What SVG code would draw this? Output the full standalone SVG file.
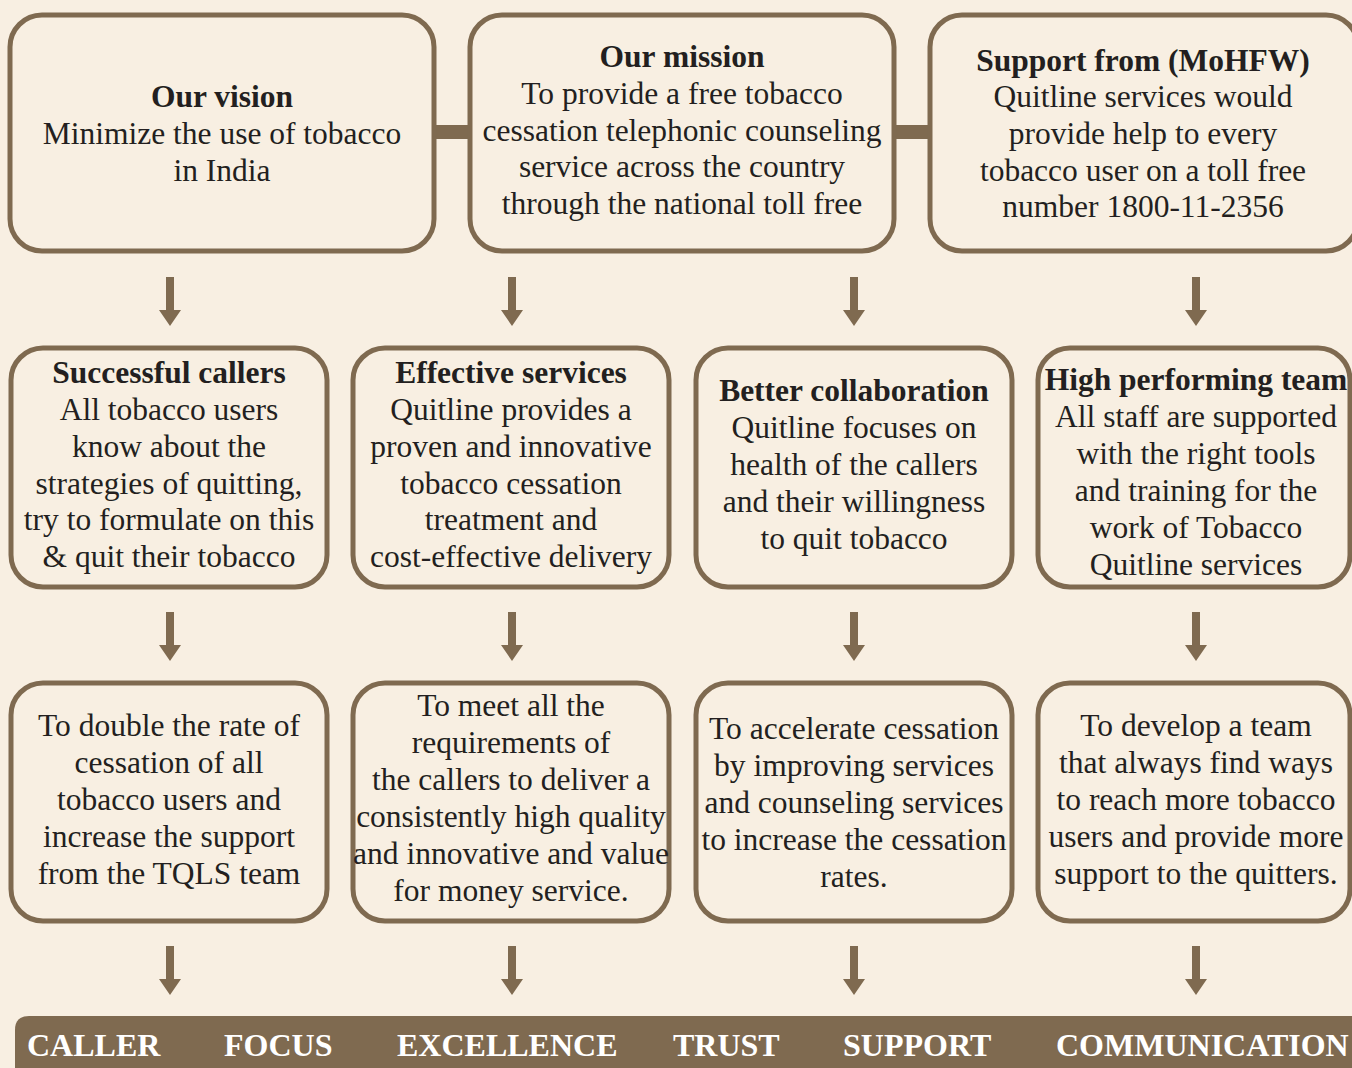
<svg xmlns="http://www.w3.org/2000/svg" width="1352" height="1068" viewBox="0 0 1352 1068">
<style>
.bg{fill:#f8efe2}
.box{fill:#f8efe2;stroke:#7f6a50;stroke-width:5}
.t{font-family:'Liberation Serif','DejaVu Serif',serif;font-size:31.5px;fill:#231f20;text-anchor:middle}
.b{font-weight:bold}
.bar{fill:#7f6a50}
.lab{font-family:'Liberation Serif','DejaVu Serif',serif;font-size:32px;font-weight:bold;fill:#ffffff}
.arr{fill:#7f6a50}
</style>
<defs>
<path id="arrow" d="M-4,0 H4 V33 H11 L0,49 L-11,33 H-4 Z"/>
</defs>
<rect class="bg" x="0" y="0" width="1352" height="1068"/>
<g id="connectors">
<rect class="bar" x="433" y="125" width="38" height="14"/>
<rect class="bar" x="893" y="125" width="38" height="14"/>
<use href="#arrow" class="arr" x="170" y="277"/>
<use href="#arrow" class="arr" x="512" y="277"/>
<use href="#arrow" class="arr" x="854" y="277"/>
<use href="#arrow" class="arr" x="1196" y="277"/>
<use href="#arrow" class="arr" x="170" y="612"/>
<use href="#arrow" class="arr" x="512" y="612"/>
<use href="#arrow" class="arr" x="854" y="612"/>
<use href="#arrow" class="arr" x="1196" y="612"/>
<use href="#arrow" class="arr" x="170" y="946"/>
<use href="#arrow" class="arr" x="512" y="946"/>
<use href="#arrow" class="arr" x="854" y="946"/>
<use href="#arrow" class="arr" x="1196" y="946"/>
</g>
<g id="vision">
<rect class="box" x="10" y="15" width="424" height="236" rx="32"/>
<text class="t"><tspan class="b" x="222" y="107">Our vision</tspan><tspan x="222" y="144">Minimize the use of tobacco</tspan><tspan x="222" y="181">in India</tspan></text>
</g>
<g id="mission">
<rect class="box" x="470" y="15" width="424" height="236" rx="32"/>
<text class="t"><tspan class="b" x="682" y="67">Our mission</tspan><tspan x="682" y="104">To provide a free tobacco</tspan><tspan x="682" y="141">cessation telephonic counseling</tspan><tspan x="682" y="177">service across the country</tspan><tspan x="682" y="214">through the national toll free</tspan></text>
</g>
<g id="support">
<rect class="box" x="930" y="15" width="428" height="236" rx="32"/>
<text class="t"><tspan class="b" x="1143" y="71">Support from (MoHFW)</tspan><tspan x="1143" y="107">Quitline services would</tspan><tspan x="1143" y="144">provide help to every</tspan><tspan x="1143" y="181">tobacco user on a toll free</tspan><tspan x="1143" y="217">number 1800-11-2356</tspan></text>
</g>
<g id="callers">
<rect class="box" x="11" y="348" width="316" height="239" rx="32"/>
<text class="t"><tspan class="b" x="169" y="383">Successful callers</tspan><tspan x="169" y="420">All tobacco users</tspan><tspan x="169" y="457">know about the</tspan><tspan x="169" y="494">strategies of quitting,</tspan><tspan x="169" y="530">try to formulate on this</tspan><tspan x="169" y="567">&amp; quit their tobacco</tspan></text>
</g>
<g id="services">
<rect class="box" x="353" y="348" width="316" height="239" rx="32"/>
<text class="t"><tspan class="b" x="511" y="383">Effective services</tspan><tspan x="511" y="420">Quitline provides a</tspan><tspan x="511" y="457">proven and innovative</tspan><tspan x="511" y="494">tobacco cessation</tspan><tspan x="511" y="530">treatment and</tspan><tspan x="511" y="567">cost-effective delivery</tspan></text>
</g>
<g id="collaboration">
<rect class="box" x="696" y="348" width="316" height="239" rx="32"/>
<text class="t"><tspan class="b" x="854" y="401">Better collaboration</tspan><tspan x="854" y="438">Quitline focuses on</tspan><tspan x="854" y="475">health of the callers</tspan><tspan x="854" y="512">and their willingness</tspan><tspan x="854" y="549">to quit tobacco</tspan></text>
</g>
<g id="team">
<rect class="box" x="1038" y="348" width="312" height="239" rx="32"/>
<text class="t"><tspan class="b" x="1196" y="390">High performing team</tspan><tspan x="1196" y="427">All staff are supported</tspan><tspan x="1196" y="464">with the right tools</tspan><tspan x="1196" y="501">and training for the</tspan><tspan x="1196" y="538">work of Tobacco</tspan><tspan x="1196" y="575">Quitline services</tspan></text>
</g>
<g id="goal1">
<rect class="box" x="11" y="683" width="316" height="238" rx="32"/>
<text class="t"><tspan x="169" y="736">To double the rate of</tspan><tspan x="169" y="773">cessation of all</tspan><tspan x="169" y="810">tobacco users and</tspan><tspan x="169" y="847">increase the support</tspan><tspan x="169" y="884">from the TQLS team</tspan></text>
</g>
<g id="goal2">
<rect class="box" x="353" y="683" width="316" height="238" rx="32"/>
<text class="t"><tspan x="511" y="716">To meet all the</tspan><tspan x="511" y="753">requirements of</tspan><tspan x="511" y="790">the callers to deliver a</tspan><tspan x="511" y="827">consistently high quality</tspan><tspan x="511" y="864">and innovative and value</tspan><tspan x="511" y="901">for money service.</tspan></text>
</g>
<g id="goal3">
<rect class="box" x="696" y="683" width="316" height="238" rx="32"/>
<text class="t"><tspan x="854" y="739">To accelerate cessation</tspan><tspan x="854" y="776">by improving services</tspan><tspan x="854" y="813">and counseling services</tspan><tspan x="854" y="850">to increase the cessation</tspan><tspan x="854" y="887">rates.</tspan></text>
</g>
<g id="goal4">
<rect class="box" x="1038" y="683" width="312" height="238" rx="32"/>
<text class="t"><tspan x="1196" y="736">To develop a team</tspan><tspan x="1196" y="773">that always find ways</tspan><tspan x="1196" y="810">to reach more tobacco</tspan><tspan x="1196" y="847">users and provide more</tspan><tspan x="1196" y="884">support to the quitters.</tspan></text>
</g>
<g id="values">
<path class="bar" d="M15,1030 Q15,1016 29,1016 H1352 V1068 H15 Z"/>
<text class="lab" y="1056"><tspan x="27">CALLER</tspan><tspan x="224">FOCUS</tspan><tspan x="397">EXCELLENCE</tspan><tspan x="673">TRUST</tspan><tspan x="843">SUPPORT</tspan><tspan x="1056">COMMUNICATION</tspan></text>
</g>
</svg>
